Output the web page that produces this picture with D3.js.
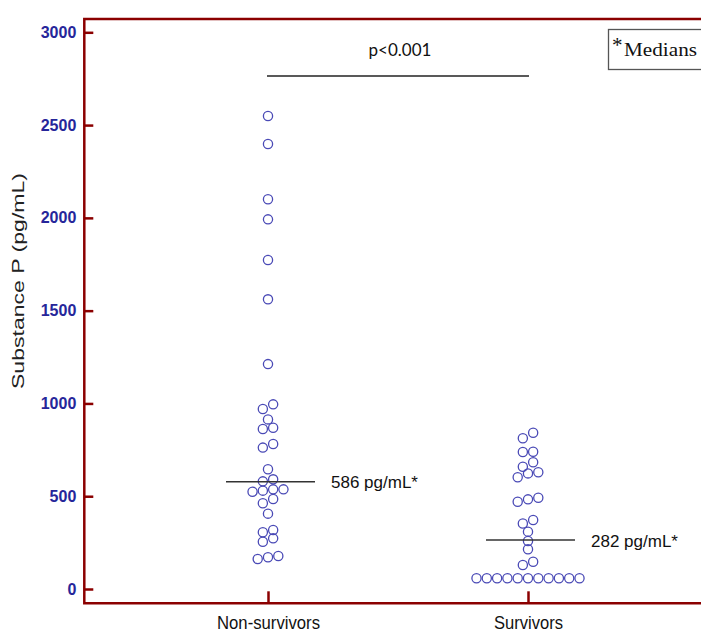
<!DOCTYPE html>
<html>
<head>
<meta charset="utf-8">
<script src="https://cdn.jsdelivr.net/npm/d3@7"></script>
<style>
  body { margin: 0; background: #fff; }
  svg { display: block; }
</style>
</head>
<body>
<div id="chart"></div>
<script>
// values
const groups = ["Non-survivors", "Survivors"];
const nonSurvivors = [2549, 2398, 2100, 1992, 1773, 1561, 1212, 995, 970, 914, 869, 862, 781, 762,
  645, 591, 580, 537, 537, 530, 524, 485, 462, 406, 318, 306, 273, 255, 178, 171, 162];
const survivors = [842, 812, 740, 738, 683, 659, 629, 623, 602, 492, 483, 470, 372, 353, 309, 259, 214,
  147, 129, 58, 58, 58, 58, 58, 58, 58, 58, 58, 58, 58];
const medianLevels = [578, 264];
const medianLabels = ["586 pg/mL*", "282 pg/mL*"];
const yTicks = [0, 500, 1000, 1500, 2000, 2500, 3000];
const pText = "p<0.001";

const W = 701, H = 632;
const frameColor = "#8b0000";
const dotColor = "#4a4ab6";
const binWidth = 50;   // dot plot bin (pg/mL)
const dotStep = 10.3;  // horizontal spacing of dots in a bin

const svg = d3.select("#chart").append("svg")
  .attr("width", W).attr("height", H)
  .style("font-family", "'Liberation Sans', Arial, sans-serif");

const y = d3.scaleLinear().domain([0, 3000]).range([589, 32.3]);
const x = d3.scalePoint().domain(groups).range([268, 528]);

const frameL = 84.3, frameT = 19, frameB = 603.3;

// y axis ticks + labels
const yAxis = svg.append("g")
  .attr("transform", `translate(${frameL},0)`)
  .call(d3.axisLeft(y).tickValues(yTicks).tickFormat(d3.format("d"))
    .tickSizeInner(-9).tickSizeOuter(0).tickPadding(8));
yAxis.select(".domain").remove();
yAxis.selectAll(".tick line").attr("stroke", frameColor).attr("stroke-width", 2.5);
yAxis.selectAll(".tick text")
  .attr("fill", "#26269a")
  .style("font-size", "16px").style("font-weight", "bold")
  .style("font-family", "'Liberation Sans', Arial, sans-serif");

// x axis ticks + labels
const xAxis = svg.append("g")
  .attr("transform", `translate(0,${frameB})`)
  .call(d3.axisBottom(x).tickSizeInner(-12).tickSizeOuter(0));
xAxis.select(".domain").remove();
xAxis.selectAll(".tick line").attr("stroke", frameColor).attr("stroke-width", 2.5);
xAxis.selectAll(".tick text")
  .attr("y", 26).attr("dy", 0)
  .attr("fill", "#111")
  .style("font-size", "19px")
  .style("font-family", "'Liberation Sans', Arial, sans-serif")
  .attr("textLength", d => d === "Survivors" ? 69 : 103)
  .attr("lengthAdjust", "spacingAndGlyphs");

// frame (left, top, bottom)
svg.append("path")
  .attr("d", `M${W},${frameT}H${frameL}V${frameB}H${W}`)
  .attr("fill", "none").attr("stroke", frameColor).attr("stroke-width", 2.5);

// y title
svg.append("text")
  .attr("transform", "translate(24,281) rotate(-90)")
  .attr("text-anchor", "middle")
  .attr("font-size", "17px").attr("fill", "#222")
  .attr("textLength", 216).attr("lengthAdjust", "spacingAndGlyphs")
  .text("Substance P (pg/mL)");

// dot plot: bin by value, spread each bin around the category centre
function dotLayout(values) {
  const bins = d3.groups(values, v => Math.floor(v / binWidth));
  const out = [];
  bins.forEach(([, vs]) => {
    const s = vs.slice().sort(d3.ascending);
    s.forEach((v, i) => out.push({ v, off: (i - (s.length - 1) / 2) * dotStep }));
  });
  return out;
}

[nonSurvivors, survivors].forEach((vals, gi) => {
  const cx = x(groups[gi]);
  svg.append("g").selectAll("circle")
    .data(dotLayout(vals))
    .join("circle")
    .attr("cx", d => cx + d.off)
    .attr("cy", d => y(d.v))
    .attr("r", 4.6)
    .attr("fill", "none")
    .attr("stroke", dotColor)
    .attr("stroke-width", 1.3);

  // median line + label
  svg.append("line")
    .attr("x1", cx - 42).attr("x2", cx + 47)
    .attr("y1", y(medianLevels[gi])).attr("y2", y(medianLevels[gi]))
    .attr("stroke", "#333").attr("stroke-width", 1.3);
  svg.append("text")
    .attr("x", cx + 63).attr("y", y(medianLevels[gi]) + 6.5)
    .attr("font-size", "17px").attr("fill", "#111")
    .text(medianLabels[gi]);
});

// significance bar
svg.append("line")
  .attr("x1", x(groups[0]) - 1).attr("x2", x(groups[1]) + 1)
  .attr("y1", 76).attr("y2", 76)
  .attr("stroke", "#222").attr("stroke-width", 1.3);
svg.append("text")
  .attr("x", (x(groups[0]) + x(groups[1])) / 2 + 2).attr("y", 56)
  .attr("text-anchor", "middle")
  .attr("font-family", "Lato, 'Open Sans', sans-serif")
  .attr("font-size", "17px").attr("fill", "#111")
  .text(pText);

// medians key box
svg.append("rect")
  .attr("x", 608.5).attr("y", 29.5).attr("width", 110).attr("height", 40)
  .attr("fill", "#fff").attr("stroke", "#555").attr("stroke-width", 1.3);
svg.append("text")
  .attr("x", 612).attr("y", 52)
  .attr("font-family", "'Liberation Serif', 'Times New Roman', serif")
  .attr("font-size", "21px").attr("fill", "#111")
  .text("*");
svg.append("text")
  .attr("x", 624).attr("y", 56)
  .attr("font-family", "'Liberation Serif', 'Times New Roman', serif")
  .attr("font-size", "19px").attr("fill", "#111")
  .attr("textLength", 73).attr("lengthAdjust", "spacingAndGlyphs")
  .text("Medians");
</script>
</body>
</html>
